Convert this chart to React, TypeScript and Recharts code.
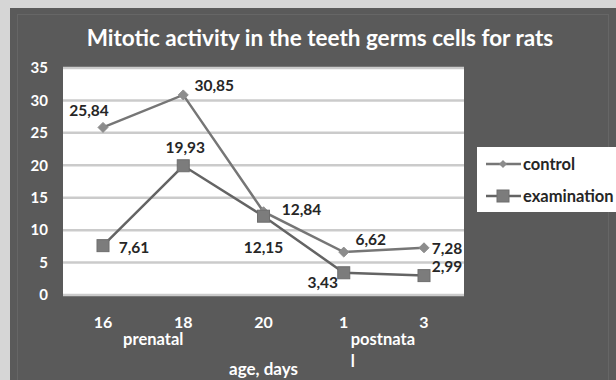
import React from 'react';
import { LineChart, Line, XAxis, YAxis, CartesianGrid, LabelList } from 'recharts';

const categories = ['16', '18', '20', '1', '3'];
const subLabelLines: string[][] = [[], ['prenatal'], [], ['postnata', 'l'], []];
const controlValues = [25.84, 30.85, 12.84, 6.62, 7.28];
const examinationValues = [7.61, 19.93, 12.15, 3.43, 2.99];
const yTicks = [0, 5, 10, 15, 20, 25, 30, 35];
const titleText = 'Mitotic activity in the teeth germs cells for rats';
const xAxisTitle = 'age, days';
const seriesNames = ['control', 'examination'];

const data = categories.map((c, i) => ({
  cat: c,
  control: controlValues[i],
  examination: examinationValues[i],
}));

const FONT = "Lato, 'Open Sans', sans-serif";
const CONTROL_LINE = '#767676';
const EXAM_LINE = '#646464';

// label offsets (dx, dy) relative to the point, per series
const controlLabelOffsets = [[-14, -17], [31, -9], [38, -2], [27, -13], [23, 1]];
const examLabelOffsets = [[31, 2], [2, -18], [0, 31], [-21, 10], [23, -9]];

const fmt = (v: number) => v.toFixed(2).replace('.', ',');

const makeLabel = (offsets: number[][]) => (props: any) => {
  const { x, y, value, index } = props;
  const [dx, dy] = offsets[index] || [0, 0];
  return (
    <text x={x + dx} y={y + dy} dy="0.36em" textAnchor="middle" fill="#262626"
      fontFamily={FONT} fontWeight={700} fontSize={15.5}>
      {fmt(value)}
    </text>
  );
};

const Diamond = (props: any) => {
  const { cx, cy } = props;
  if (cx == null || cy == null) return null;
  const r = 5;
  return <polygon points={`${cx},${cy - r} ${cx + r},${cy} ${cx},${cy + r} ${cx - r},${cy}`} fill="#8c8c8c" stroke="#8c8c8c" strokeWidth={1} />;
};

const Square = (props: any) => {
  const { cx, cy } = props;
  if (cx == null || cy == null) return null;
  const s = 12;
  return <rect x={cx - s / 2} y={cy - s / 2} width={s} height={s} fill="#7c7c7c" stroke="#6e6e6e" strokeWidth={1} />;
};

const XTick = (props: any) => {
  const { x, y, payload } = props;
  const idx = payload.index;
  const lines = subLabelLines[idx] || [];
  return (
    <g>
      <text x={x} y={y + 33} textAnchor="middle" fill="#ffffff" fontFamily={FONT} fontWeight={700} fontSize={16}>
        {payload.value}
      </text>
      {lines.length === 1 && (
        <text x={x - 30} y={y + 50} textAnchor="middle" fill="#ffffff" fontFamily={FONT} fontWeight={700} fontSize={16.5}>
          {lines[0]}
        </text>
      )}
      {lines.length > 1 && lines.map((l, i) => (
        <text key={i} x={x + 7} y={y + 50 + i * 22} textAnchor="start" fill="#ffffff" fontFamily={FONT} fontWeight={700} fontSize={16.5}>
          {l}
        </text>
      ))}
    </g>
  );
};

const LegendBox = () => {
  const rows = [
    { name: seriesNames[0], color: CONTROL_LINE, marker: 'diamond' },
    { name: seriesNames[1], color: EXAM_LINE, marker: 'square' },
  ];
  return (
    <div style={{ position: 'absolute', left: 467, top: 139, background: '#ffffff', width: 139, height: 65, boxSizing: 'border-box', paddingTop: 1 }}>
      {rows.map((r) => (
        <div key={r.name} style={{ display: 'flex', alignItems: 'center', height: 32 }}>
          <svg width={46} height={16} style={{ display: 'block' }}>
            <line x1={9} y1={8} x2={44} y2={8} stroke={r.color} strokeWidth={2.5} />
            {r.marker === 'diamond'
              ? <polygon points="26,4 30,8 26,12 22,8" fill="#8c8c8c" />
              : <rect x={20} y={2} width={12} height={12} fill="#7c7c7c" stroke="#6e6e6e" />}
          </svg>
          <span style={{ fontFamily: FONT, fontWeight: 700, fontSize: 16.5, color: '#262626', lineHeight: '16px' }}>{r.name}</span>
        </div>
      ))}
    </div>
  );
};

export default function App() {
  return (
    <div style={{ position: 'fixed', left: 0, top: 0, width: 616, height: 380, background: '#d6d6d6', overflow: 'hidden' }}>
      <div style={{ position: 'absolute', left: 10, top: 8, width: 606, height: 372, background: '#5a5a5a' }}>
        <div style={{ position: 'absolute', left: 7, top: 6, width: 590, height: 380, border: '1px solid #666666' }} />
        <div style={{ position: 'absolute', left: 0, top: 17, width: 620, textAlign: 'center', color: '#ffffff', fontFamily: FONT, fontWeight: 700, fontSize: 22.5, lineHeight: '26px', whiteSpace: 'nowrap' }}>
          {titleText}
        </div>
        <div style={{ position: 'absolute', left: 0, top: 0 }}>
          <LineChart width={606} height={372} data={data} margin={{ top: 60, right: 152, bottom: 25, left: 13 }}>
            <CartesianGrid vertical={false} fill="#ffffff" stroke="#cbcbcb" strokeWidth={2.5} />
            <XAxis dataKey="cat" axisLine={false} tickLine={false} tickSize={0} tickMargin={0} height={60} interval={0}
              padding={{ left: 40, right: 40 }}
              tick={<XTick />}
              label={{ value: xAxisTitle, position: 'bottom', offset: 8, fill: '#ffffff', fontFamily: FONT, fontWeight: 700, fontSize: 17 }} />
            <YAxis domain={[0, 35]} ticks={yTicks} axisLine={false} tickLine={false} tickSize={0} tickMargin={15} width={40}
              tick={{ fill: '#ffffff', fontFamily: FONT, fontWeight: 700, fontSize: 15 }} />
            <Line type="linear" dataKey="control" name={seriesNames[0]} stroke={CONTROL_LINE} strokeWidth={2.5}
              dot={<Diamond />} activeDot={false} isAnimationActive={false}>
              <LabelList dataKey="control" content={makeLabel(controlLabelOffsets)} />
            </Line>
            <Line type="linear" dataKey="examination" name={seriesNames[1]} stroke={EXAM_LINE} strokeWidth={2.5}
              dot={<Square />} activeDot={false} isAnimationActive={false}>
              <LabelList dataKey="examination" content={makeLabel(examLabelOffsets)} />
            </Line>
          </LineChart>
        </div>
        <LegendBox />
      </div>
    </div>
  );
}
